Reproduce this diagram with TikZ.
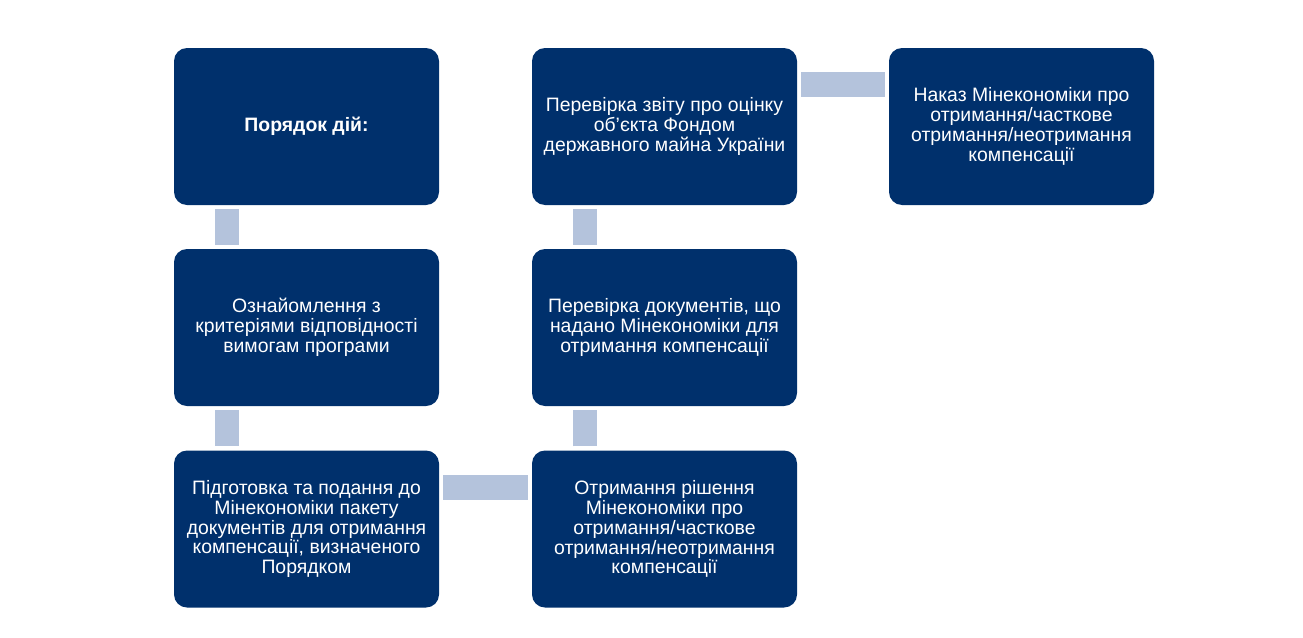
\documentclass[tikz,border=0pt]{standalone}
\usepackage{fontspec}
\setmainfont{Liberation Sans}
\usetikzlibrary{calc}
\definecolor{navy}{RGB}{0,48,108}
\definecolor{connblue}{RGB}{180,195,220}
\tikzset{
  stepbox/.style={rectangle, rounded corners=13pt, fill=navy, text=white,
    minimum width=265pt, minimum height=157pt, inner sep=0pt, align=center,
    font=\fontsize{19.4}{19.9}\selectfont},
  connv/.style={draw=connblue, line width=24pt, line cap=butt},
  connh/.style={draw=connblue, line width=25pt, line cap=butt}
}
\begin{document}
\begin{tikzpicture}[x=1pt,y=-1pt]
\useasboundingbox (0,0) rectangle (1303,637);
\node[stepbox] (a) at (306.5,126.5) {\textbf{Порядок дій:}};
\node[stepbox] (b) at (306.5,327.5) {Ознайомлення з\\критеріями відповідності\\вимогам програми};
\node[stepbox] (c) at (306.5,529) {Підготовка та подання до\\Мінекономіки пакету\\документів для отримання\\компенсації, визначеного\\Порядком};
\node[stepbox] (d) at (664.5,529) {Отримання рішення\\Мінекономіки про\\отримання/часткове\\отримання/неотримання\\компенсації};
\node[stepbox] (e) at (664.5,327.5) {Перевірка документів, що\\надано Мінекономіки для\\отримання компенсації};
\node[stepbox] (f) at (664.5,126.5) {Перевірка звіту про оцінку\\об’єкта Фондом\\державного майна України};
\node[stepbox] (g) at (1021.5,126.5) {Наказ Мінекономіки про\\отримання/часткове\\отримання/неотримання\\компенсації};
\draw[connv] ($(a.south west)+(53,4)$) -- ($(b.north west)+(53,-4)$);
\draw[connv] ($(b.south west)+(53,4)$) -- ($(c.north west)+(53,-4)$);
\draw[connh] ($(c.north east)+(4,37.5)$) -- ($(d.north west)+(-4,37.5)$);
\draw[connv] ($(d.north west)+(53,-4)$) -- ($(e.south west)+(53,4)$);
\draw[connv] ($(e.north west)+(53,-4)$) -- ($(f.south west)+(53,4)$);
\draw[connh] ($(f.north east)+(4,37)$) -- ($(g.north west)+(-4,37)$);
\end{tikzpicture}
\end{document}
